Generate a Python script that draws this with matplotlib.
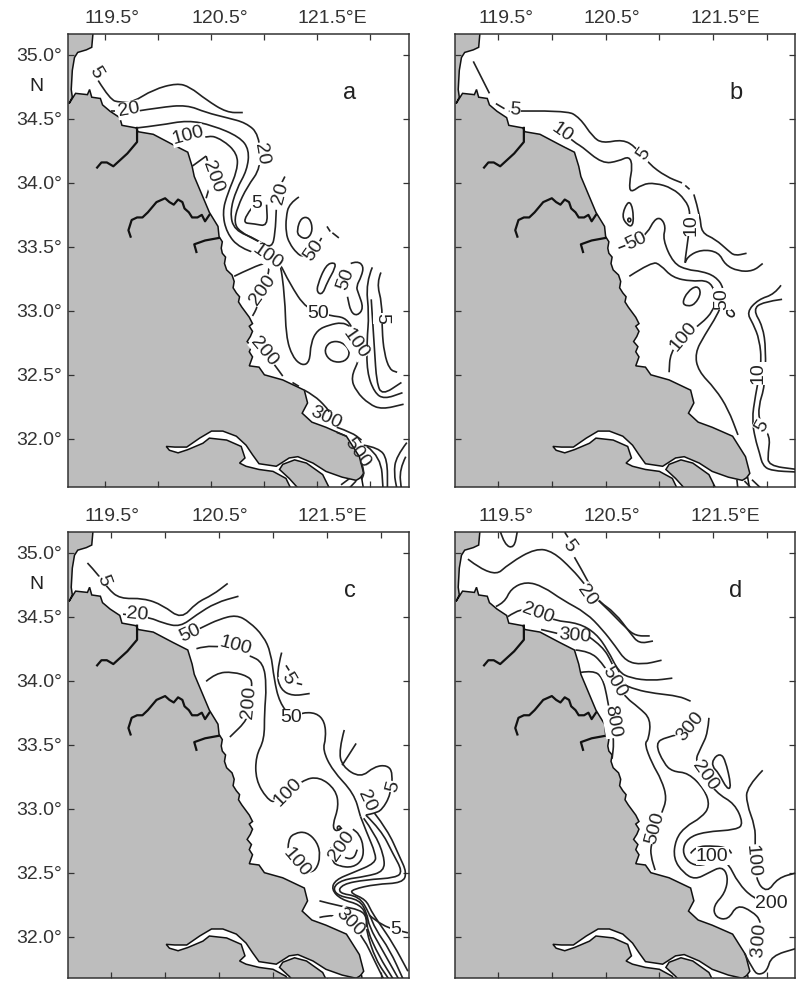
import matplotlib
matplotlib.use('Agg')
import matplotlib.pyplot as plt
from matplotlib.path import Path
from matplotlib.patches import PathPatch, Polygon

plt.rcParams['font.family'] = ['Liberation Sans', 'DejaVu Sans']

# axis ticks
xticks = [119.5, 120.0, 120.5, 121.0, 121.5, 122.0]
xticks_a = [119.445, 119.934, 120.424, 120.914, 121.404, 121.897]  # panel a ticks sit a bit left in the original
yticks = [32.0, 32.5, 33.0, 33.5, 34.0, 34.5, 35.0]
ytick_labels = ['32.0°', '32.5°', '33.0°', '33.5°', '34.0°', '34.5°', '35.0°']
xlabel_text = ['119.5°', '120.5°', '121.5°E']
xlabel_left = [119.51, 120.51, 121.55]
xlabel_right = [119.57, 120.56, 121.61]

# land outline, lon/lat
land = [(119.03, 35.25), (119.34, 35.25), (119.32, 35.06), (119.27, 35.04), (119.19, 35.02), (119.16, 34.98),
        (119.14, 34.88), (119.13, 34.73), (119.14, 34.67), (119.11, 34.62), (119.17, 34.70), (119.28, 34.69),
        (119.30, 34.73), (119.32, 34.67), (119.40, 34.66), (119.42, 34.61), (119.49, 34.56), (119.58, 34.51),
        (119.60, 34.45), (119.73, 34.43), (119.75, 34.40), (119.89, 34.38), (120.07, 34.30), (120.21, 34.24),
        (120.25, 34.13), (120.27, 34.05), (120.41, 33.77), (120.49, 33.66), (120.50, 33.58), (120.53, 33.54),
        (120.52, 33.49), (120.53, 33.45), (120.56, 33.42), (120.55, 33.37), (120.57, 33.32), (120.62, 33.28),
        (120.64, 33.23), (120.63, 33.18), (120.66, 33.14), (120.69, 33.11), (120.68, 33.07), (120.71, 33.03),
        (120.78, 32.95), (120.81, 32.90), (120.78, 32.88), (120.81, 32.84), (120.79, 32.80), (120.76, 32.76),
        (120.80, 32.72), (120.78, 32.68), (120.81, 32.64), (120.78, 32.57), (120.87, 32.56), (120.92, 32.50),
        (121.09, 32.46), (121.29, 32.38), (121.32, 32.28), (121.27, 32.20), (121.36, 32.13), (121.49, 32.09),
        (121.68, 32.02), (121.80, 31.86), (121.84, 31.73), (121.78, 31.66), (121.61, 31.55), (119.03, 31.55)]

# Yangtze channels, white on the land
estuary = [(120.01, 31.94), (120.09, 31.935), (120.20, 31.935), (120.32, 32.005), (120.43, 32.06), (120.535, 32.06),
           (120.66, 32.02), (120.75, 31.95), (120.81, 31.875), (120.87, 31.805), (121.03, 31.785), (121.15, 31.85),
           (121.23, 31.86), (121.37, 31.81), (121.49, 31.745), (121.64, 31.70), (121.77, 31.675), (121.82, 31.70),
           (121.85, 31.55), (121.56, 31.55), (121.46, 31.72), (121.31, 31.81), (121.20, 31.835), (121.09, 31.80),
           (121.06, 31.76), (121.15, 31.69), (121.30, 31.55), (121.20, 31.55), (121.12, 31.69), (121.00, 31.745),
           (120.87, 31.76), (120.75, 31.785), (120.69, 31.81), (120.74, 31.85), (120.705, 31.94), (120.57, 31.99),
           (120.41, 32.005), (120.35, 31.965), (120.21, 31.915), (120.12, 31.89), (120.04, 31.91)]

river_1 = [(119.74, 34.43), (119.74, 34.32), (119.65, 34.23), (119.52, 34.13), (119.46, 34.16), (119.41, 34.16),
           (119.37, 34.12)]
river_2 = [(120.41, 33.75), (120.37, 33.70), (120.34, 33.75), (120.30, 33.73), (120.25, 33.73), (120.22, 33.77),
           (120.18, 33.80), (120.16, 33.85), (120.12, 33.87), (120.08, 33.83), (120.04, 33.85), (120.00, 33.88),
           (119.92, 33.85), (119.87, 33.80), (119.84, 33.77), (119.79, 33.73), (119.74, 33.73), (119.69, 33.71),
           (119.66, 33.63), (119.68, 33.58)]
river_3 = [(120.50, 33.57), (120.37, 33.55), (120.27, 33.52), (120.29, 33.46)]
mouth_1 = [(121.63, 31.64), (121.71, 31.69)]
mouth_2 = [(121.69, 31.60), (121.77, 31.67)]
mouth_3 = [(121.72, 31.68), (121.73, 31.60)]
mouth_4 = [(121.79, 31.67), (121.87, 31.60)]
mouth_5 = [(121.86, 31.68), (121.96, 31.60)]

# panel a
a_5 = [(119.38, 34.80), (119.49, 34.65), (119.58, 34.63), (119.70, 34.63), (119.89, 34.73), (120.11, 34.78),
       (120.23, 34.75), (120.38, 34.65), (120.57, 34.55), (120.72, 34.55)]
a_20 = [(119.73, 34.56), (119.95, 34.59), (120.20, 34.61), (120.38, 34.55), (120.57, 34.51), (120.75, 34.47),
        (120.87, 34.38), (120.89, 34.12), (120.76, 33.97), (120.67, 33.81), (120.64, 33.69), (120.69, 33.62),
        (120.87, 33.54), (120.99, 33.49), (121.02, 33.61), (121.03, 33.79)]
a_50 = [(119.74, 34.43), (119.95, 34.45), (120.21, 34.49), (120.44, 34.45), (120.69, 34.36), (120.78, 34.26),
        (120.76, 34.10), (120.66, 33.95), (120.60, 33.77), (120.64, 33.63), (120.85, 33.56), (120.97, 33.48),
        (121.06, 33.42), (121.11, 33.11), (121.12, 32.80), (121.18, 32.64), (121.27, 32.57), (121.34, 32.60),
        (121.35, 32.75), (121.41, 32.85), (121.52, 32.89), (121.64, 32.91), (121.71, 32.88)]
a_100 = [(120.09, 34.28), (120.38, 34.38), (120.53, 34.34), (120.67, 34.23), (120.67, 34.10), (120.58, 33.92),
         (120.53, 33.77), (120.57, 33.61), (120.69, 33.49), (120.99, 33.41), (121.06, 33.38), (121.15, 33.22),
         (121.31, 33.01), (121.54, 32.96), (121.66, 32.95), (121.73, 32.88), (121.80, 32.74), (121.80, 32.62),
         (121.72, 32.48), (121.77, 32.37), (121.89, 32.27), (122.01, 32.23), (122.21, 32.27)]
a_hook_5 = [(120.80, 33.80), (120.70, 33.69), (120.83, 33.68), (120.95, 33.66), (120.94, 33.83)]
a_arc_50 = [(121.24, 33.89), (121.15, 33.84), (121.12, 33.73), (121.12, 33.61), (121.15, 33.53), (121.22, 33.45),
            (121.28, 33.42), (121.39, 33.48), (121.45, 33.57)]
a_hook_50 = [(121.72, 33.37), (121.78, 33.39), (121.84, 33.35), (121.82, 33.27), (121.77, 33.19), (121.79, 33.14),
             (121.84, 33.02), (121.78, 32.96), (121.72, 32.99), (121.69, 33.11)]
a_right_5 = [(122.00, 33.30), (121.96, 33.22), (122.01, 33.06), (122.01, 32.85), (122.03, 32.67), (122.08, 32.54),
             (122.15, 32.52)]
a_right_b = [(121.91, 33.09), (121.94, 32.70), (121.96, 32.44), (122.01, 32.34), (122.19, 32.44)]
a_right_c = [(121.92, 33.34), (121.86, 33.22), (121.89, 32.97), (121.87, 32.77), (121.87, 32.52), (121.94, 32.36),
             (122.03, 32.31), (122.20, 32.36)]
a_200_a = [(120.64, 33.27), (120.81, 33.34), (120.95, 33.38), (120.97, 33.31), (120.85, 33.02), (120.81, 32.96)]
a_200_b = [(120.25, 34.13), (120.38, 34.21)]
a_200_c = [(120.38, 34.21), (120.44, 34.05), (120.38, 33.88)]
a_200_d = [(120.86, 32.73), (120.92, 32.68), (121.03, 32.56), (121.09, 32.49)]
a_dash_1 = [(121.18, 32.44), (121.24, 32.41)]
a_300 = [(121.29, 32.38), (121.38, 32.34), (121.49, 32.25), (121.52, 32.21)]
a_300_c = [(121.59, 32.09), (121.73, 32.05), (121.82, 31.99)]
a_300_b = [(121.59, 32.05), (121.68, 32.02)]
a_500 = [(121.82, 31.81), (121.85, 31.74), (121.82, 31.68)]
a_low_1 = [(121.84, 31.95), (121.98, 31.93), (122.06, 31.84), (122.06, 31.60)]
a_low_2 = [(121.87, 31.94), (122.00, 31.86), (122.02, 31.60)]
a_low_3 = [(122.24, 31.97), (122.14, 31.86), (122.12, 31.73), (122.15, 31.60)]
a_low_4 = [(122.23, 31.86), (122.17, 31.76), (122.19, 31.60)]
a_stub_1 = [(121.11, 34.05), (121.08, 34.00)]
a_stub_2 = [(121.50, 33.66), (121.53, 33.62)]
a_stub_3 = [(121.55, 33.61), (121.61, 33.57)]
a_stub_4 = [(119.50, 34.56), (119.54, 34.56)]
a_oval_1 = [(121.22, 33.63), (121.26, 33.73), (121.34, 33.73), (121.37, 33.63), (121.32, 33.56), (121.24, 33.58)]
a_oval_2 = [(121.41, 33.20), (121.49, 33.36), (121.57, 33.38), (121.58, 33.34), (121.50, 33.22), (121.46, 33.13),
            (121.41, 33.14)]
a_oval_3 = [(121.47, 32.68), (121.52, 32.76), (121.64, 32.76), (121.72, 32.68), (121.67, 32.60), (121.54, 32.60)]
a_lines = [a_5, a_20, a_50, a_100, a_hook_5, a_arc_50, a_hook_50, a_right_5, a_right_b, a_right_c, a_200_a, a_200_b,
           a_200_c, a_200_d, a_dash_1, a_300, a_300_c, a_300_b, a_500, a_low_1, a_low_2, a_low_3, a_low_4, a_stub_1,
           a_stub_2, a_stub_3, a_stub_4, mouth_1, mouth_2]
a_rings = [a_oval_1, a_oval_2, a_oval_3]
a_labels = [('5', 119.36, 34.86, -60), ('20', 119.66, 34.57, 10), ('20', 120.89, 34.23, -80), ('100', 120.21, 34.37, 15),
            ('200', 120.44, 34.05, -70), ('5', 120.85, 33.84, 0), ('20', 121.07, 33.92, 75), ('100', 120.95, 33.42, -35),
            ('50', 121.38, 33.47, 55), ('50', 121.67, 33.25, 70), ('200', 120.90, 33.16, 55), ('50', 121.42, 32.98, 0),
            ('100', 121.76, 32.74, -55), ('5', 122.01, 32.94, -90), ('200', 120.92, 32.68, -50)]
a_plain = [('300', 121.49, 32.16, -25), ('500', 121.78, 31.89, -55)]

# panel b
b_5_a = [(119.27, 34.95), (119.42, 34.70)]
b_5_b = [(119.48, 34.62), (119.56, 34.58)]
b_5_c = [(119.60, 34.56), (120.13, 34.57), (120.26, 34.51), (120.38, 34.36), (120.47, 34.31), (120.66, 34.34),
         (120.78, 34.28), (120.90, 34.15), (121.06, 34.05), (121.21, 34.00)]
b_5_d = [(121.24, 33.98), (121.28, 33.95)]
b_5_e = [(121.32, 33.91), (121.38, 33.74), (121.39, 33.61), (121.52, 33.56), (121.64, 33.47), (121.70, 33.43),
         (121.81, 33.45)]
b_10 = [(120.18, 34.34), (120.24, 34.30), (120.27, 34.29), (120.47, 34.15), (120.62, 34.17), (120.72, 34.21),
        (120.75, 34.13), (120.72, 34.00), (120.73, 33.92), (120.84, 33.99), (120.96, 34.00), (121.12, 33.96),
        (121.24, 33.87), (121.29, 33.77), (121.27, 33.58), (121.23, 33.35), (121.26, 33.425), (121.39, 33.48),
        (121.55, 33.46), (121.61, 33.36), (121.73, 33.31), (121.87, 33.31), (121.96, 33.37)]
b_50 = [(120.62, 33.49), (120.78, 33.54), (120.89, 33.61), (120.95, 33.71), (121.01, 33.73), (121.06, 33.66),
        (121.03, 33.56), (121.13, 33.37), (121.26, 33.32), (121.39, 33.31), (121.52, 33.27), (121.60, 33.18),
        (121.58, 33.06), (121.54, 32.97), (121.42, 32.81), (121.33, 32.67), (121.36, 32.53), (121.52, 32.39),
        (121.64, 32.23), (121.73, 32.03)]
b_100 = [(120.72, 33.27), (120.93, 33.385), (121.01, 33.36), (121.12, 33.26), (121.30, 33.23), (121.43, 33.24),
         (121.50, 33.19), (121.53, 33.10), (121.50, 33.00), (121.39, 32.90), (121.22, 32.80), (121.10, 32.67),
         (121.09, 32.52)]
b_right_10 = [(122.13, 33.20), (122.07, 33.13), (121.92, 33.09), (121.81, 32.99), (121.87, 32.90), (121.93, 32.775),
              (121.95, 32.59), (121.89, 32.33), (121.86, 32.15), (121.89, 32.00), (121.93, 31.89), (121.96, 31.79),
              (122.04, 31.75), (122.28, 31.74)]
b_right_5 = [(122.14, 33.09), (121.96, 33.07), (121.87, 33.01), (121.96, 32.88), (121.99, 32.70), (121.98, 32.41),
             (121.92, 32.255), (121.93, 32.125), (122.03, 32.02), (122.01, 31.89), (122.01, 31.79), (122.28, 31.76)]
b_oval_1 = [(120.65, 33.74), (120.70, 33.85), (120.74, 33.84), (120.76, 33.74), (120.75, 33.66), (120.70, 33.67)]
b_oval_2 = [(121.21, 33.06), (121.26, 33.15), (121.35, 33.20), (121.39, 33.14), (121.33, 33.05), (121.26, 33.035)]
b_oval_3 = [(121.62, 32.99), (121.64, 33.02), (121.70, 32.99), (121.69, 32.95), (121.64, 32.96)]
b_oval_4 = [(120.70, 33.71), (120.72, 33.73), (120.74, 33.71), (120.72, 33.69)]
b_lines = [b_5_a, b_5_b, b_5_c, b_5_d, b_5_e, b_10, b_50, b_100, b_right_10, b_right_5, mouth_3, mouth_4, mouth_5]
b_rings = [b_oval_1, b_oval_2, b_oval_3, b_oval_4]
b_labels = [('5', 119.66, 34.57, -5), ('10', 120.09, 34.39, -35), ('5', 120.85, 34.23, 55), ('10', 121.29, 33.67, 90),
            ('50', 120.78, 33.54, 25), ('50', 121.58, 33.09, 90), ('100', 121.22, 32.80, 50), ('10', 121.92, 32.51, 90),
            ('5', 121.95, 32.10, 60)]

# panel c
c_5 = [(119.28, 34.92), (119.38, 34.83), (119.47, 34.72), (119.58, 34.64), (119.80, 34.645), (119.98, 34.59),
       (120.15, 34.48), (120.29, 34.61), (120.44, 34.67), (120.58, 34.76)]
c_20 = [(119.61, 34.52), (119.84, 34.50), (119.98, 34.45), (120.14, 34.42), (120.29, 34.515), (120.47, 34.61),
        (120.68, 34.66)]
c_50 = [(120.23, 34.37), (120.35, 34.42), (120.50, 34.48), (120.66, 34.515), (120.78, 34.46), (120.91, 34.35),
        (120.98, 34.22), (121.01, 34.01), (121.06, 33.83), (121.17, 33.71), (121.26, 33.75), (121.40, 33.75),
        (121.48, 33.68), (121.49, 33.55), (121.46, 33.46), (121.55, 33.30), (121.75, 33.12), (121.81, 32.94)]
c_100 = [(120.29, 34.25), (120.44, 34.29), (120.78, 34.20), (120.91, 34.14), (120.94, 33.96), (120.92, 33.75),
         (120.92, 33.54), (120.84, 33.41), (120.84, 33.225), (120.94, 33.08), (121.03, 33.04), (121.27, 33.225),
         (121.43, 33.25), (121.58, 33.15), (121.61, 33.02), (121.55, 32.87), (121.58, 32.82), (121.64, 32.85)]
c_200 = [(120.38, 33.995), (120.47, 34.06), (120.63, 34.07), (120.78, 34.03), (120.81, 33.98), (120.78, 33.83),
         (120.77, 33.70), (120.60, 33.56)]
c_hook_5 = [(121.08, 34.22), (121.03, 34.06), (121.07, 33.93), (121.18, 33.88), (121.34, 33.90)]
c_dash_1 = [(121.12, 34.12), (121.15, 34.08)]
c_dash_2 = [(121.22, 33.98), (121.27, 33.97)]
c_loop_100 = [(121.14, 32.69), (121.14, 32.76), (121.20, 32.81), (121.31, 32.82), (121.41, 32.74), (121.44, 32.63),
              (121.40, 32.52), (121.32, 32.50)]
c_stub = [(121.10, 32.63), (121.15, 32.68)]
c_ring_1 = [(121.54, 32.70), (121.54, 32.59), (121.61, 32.55), (121.74, 32.54), (121.83, 32.60), (121.84, 32.705),
            (121.80, 32.80), (121.74, 32.84)]
c_ring_2 = [(121.61, 32.65), (121.67, 32.61), (121.75, 32.61), (121.78, 32.68)]
c_ring_3 = [(121.59, 32.85), (121.61, 32.87), (121.63, 32.85), (121.61, 32.83)]
c_band_1 = [(121.94, 32.965), (122.06, 32.835), (122.17, 32.63), (122.24, 32.50), (122.20, 32.42), (121.95, 32.41),
            (121.74, 32.37), (121.72, 32.34), (121.86, 32.29), (121.91, 32.20), (121.98, 32.11), (122.11, 31.95),
            (122.25, 31.73)]
c_band_2 = [(121.86, 32.95), (122.00, 32.835), (122.11, 32.65), (122.20, 32.51), (122.14, 32.46), (121.86, 32.445),
            (121.64, 32.41), (121.60, 32.34), (121.80, 32.315), (121.89, 32.185), (121.95, 32.055), (122.08, 31.90),
            (122.21, 31.66)]
c_band_3 = [(121.84, 32.925), (121.94, 32.81), (122.03, 32.63), (122.03, 32.51), (121.86, 32.47), (121.64, 32.445),
            (121.55, 32.38), (121.61, 32.315), (121.80, 32.29), (121.87, 32.185), (121.89, 32.08), (122.01, 31.90),
            (122.17, 31.66)]
c_band_4 = [(121.81, 32.94), (121.87, 32.81), (121.95, 32.65), (121.95, 32.575), (121.74, 32.50), (121.58, 32.445),
            (121.54, 32.37), (121.63, 32.29), (121.81, 32.25), (121.87, 32.16), (121.87, 32.055), (121.98, 31.85),
            (122.12, 31.66)]
c_300_a = [(121.43, 32.28), (121.61, 32.24), (121.81, 32.21), (121.87, 32.15), (121.86, 32.055), (121.95, 31.82),
           (122.08, 31.66)]
c_300_b = [(121.43, 32.15), (121.58, 32.18), (121.71, 32.11), (121.84, 31.99), (121.95, 31.795), (122.03, 31.66)]
c_top_5 = [(121.66, 33.615), (121.61, 33.46), (121.64, 33.33), (121.81, 33.24), (121.94, 33.33), (122.06, 33.34),
           (122.11, 33.28), (122.09, 33.11), (122.01, 32.99), (121.94, 32.965), (121.86, 32.95)]
c_top_b = [(121.77, 33.51), (121.68, 33.39), (121.64, 33.34)]
c_tail = [(121.89, 32.17), (122.01, 32.08), (122.25, 32.03)]
c_lines = [c_5, c_20, c_50, c_100, c_200, c_hook_5, c_dash_1, c_dash_2, c_loop_100, c_stub, c_ring_1, c_ring_2,
           c_band_1, c_band_2, c_band_3, c_band_4, c_300_a, c_300_b, c_top_5, c_top_b, c_tail]
c_rings = [c_ring_3]
c_labels = [('5', 119.43, 34.78, -70), ('20', 119.74, 34.515, -5), ('50', 120.23, 34.37, 25), ('100', 120.65, 34.27, -15),
            ('5', 121.14, 34.02, -60), ('200', 120.78, 33.83, 85), ('50', 121.17, 33.71, 0), ('100', 121.14, 33.13, 45),
            ('100', 121.22, 32.58, -50), ('200', 121.64, 32.705, 55), ('5', 122.11, 33.17, 75), ('20', 121.87, 33.06, -65),
            ('300', 121.71, 32.11, -45), ('5', 122.14, 32.055, 0)]
c_plain = []

# panel d
d_top_u = [(119.52, 35.17), (119.56, 35.06), (119.65, 35.035), (119.68, 35.17)]
d_5 = [(119.22, 34.95), (119.45, 34.80), (119.61, 34.92), (119.85, 35.035), (120.01, 35.01), (120.19, 34.87),
       (120.30, 34.76), (120.39, 34.66), (120.53, 34.55), (120.69, 34.41), (120.78, 34.35), (120.91, 34.35)]
d_5_b = [(120.21, 34.965), (120.35, 34.76), (120.42, 34.63), (120.59, 34.53), (120.73, 34.37), (120.81, 34.29),
         (120.94, 34.31)]
d_stub = [(120.12, 35.16), (120.15, 35.12)]
d_100 = [(119.48, 34.58), (119.56, 34.61), (119.62, 34.72), (119.76, 34.775), (119.92, 34.736), (120.10, 34.63),
         (120.32, 34.53), (120.47, 34.40), (120.59, 34.27), (120.69, 34.15), (120.84, 34.125), (121.02, 34.16)]
d_200 = [(119.59, 34.50), (119.72, 34.575), (119.87, 34.53), (120.02, 34.47), (120.25, 34.45), (120.41, 34.37),
         (120.52, 34.24), (120.62, 34.07), (120.73, 34.02), (120.93, 34.00), (121.12, 34.02)]
d_300_a = [(119.90, 34.40), (120.05, 34.37)]
d_300 = [(120.35, 34.34), (120.47, 34.27), (120.56, 34.14), (120.64, 33.98), (120.78, 33.93), (120.96, 33.90),
         (121.18, 33.88), (121.29, 33.84)]
d_500 = [(120.22, 34.24), (120.35, 34.23), (120.47, 34.14), (120.67, 33.88), (120.81, 33.79), (120.92, 33.70),
         (120.90, 33.54), (120.86, 33.51), (120.93, 33.355), (121.02, 33.225), (121.07, 33.08), (121.02, 32.965),
         (120.92, 32.72), (120.92, 32.63), (120.96, 32.52)]
d_800 = [(120.27, 34.065), (120.38, 34.08), (120.47, 34.03), (120.52, 33.85), (120.58, 33.54), (120.56, 33.39)]
d_300_b = [(121.18, 33.58), (121.06, 33.56), (120.96, 33.51), (121.04, 33.355), (121.12, 33.29), (121.27, 33.28),
           (121.42, 33.15), (121.47, 33.02), (121.39, 32.93), (121.24, 32.86), (121.15, 32.76), (121.13, 32.61),
           (121.22, 32.50), (121.33, 32.445), (121.46, 32.50), (121.58, 32.55), (121.64, 32.47), (121.61, 32.34),
           (121.50, 32.24), (121.52, 32.15), (121.64, 32.13), (121.72, 32.25), (121.86, 32.20), (121.95, 32.12),
           (121.93, 31.95)]
d_200_b = [(121.46, 33.71), (121.45, 33.59), (121.39, 33.485), (121.32, 33.355), (121.53, 33.12), (121.70, 33.04),
           (121.78, 32.885), (121.72, 32.835), (121.42, 32.82), (121.26, 32.77), (121.21, 32.67), (121.27, 32.575),
           (121.39, 32.55), (121.55, 32.61), (121.64, 32.575), (121.73, 32.42), (121.87, 32.30), (122.04, 32.26)]
d_100_b = [(121.29, 32.65), (121.33, 32.705), (121.52, 32.71), (121.64, 32.69), (121.67, 32.65)]
d_100_c = [(121.96, 33.30), (121.81, 33.17), (121.81, 33.04), (121.89, 32.86), (121.89, 32.73), (121.89, 32.445),
           (122.00, 32.34), (122.10, 32.46), (122.28, 32.50)]
d_low = [(121.79, 31.87), (121.87, 31.74), (121.92, 31.70), (122.00, 31.73), (122.04, 31.85), (122.28, 31.91)]
d_blob = [(121.50, 33.39), (121.56, 33.43), (121.61, 33.39), (121.67, 33.17), (121.63, 33.15), (121.55, 33.28),
          (121.49, 33.33)]
d_lines = [d_top_u, d_5, d_5_b, d_stub, d_100, d_200, d_300_a, d_300, d_500, d_800, d_300_b, d_200_b, d_100_b, d_100_c,
           d_low]
d_rings = [d_blob]
d_labels = [('5', 120.16, 35.05, -55), ('20', 120.33, 34.67, -55), ('200', 119.87, 34.53, -20),
            ('500', 120.58, 33.99, -60), ('800', 120.56, 33.68, -80), ('300', 121.29, 33.64, 50), ('200', 121.42, 33.26, -55),
            ('500', 120.96, 32.85, 75), ('100', 121.49, 32.63, 0), ('100', 121.86, 32.59, -85), ('200', 122.04, 32.26, 0),
            ('300', 121.93, 31.98, 85), ('3', 121.92, 31.88, 85)]
d_plain = [('300', 120.21, 34.35, -5)]


def smooth_path(points, closed=False):
    # quadratic curves through the midpoints, so the contours do not look like polygons
    verts, codes = [], []
    n = len(points)
    if closed:
        mid = ((points[-1][0] + points[0][0]) / 2, (points[-1][1] + points[0][1]) / 2)
        verts.append(mid)
        codes.append(Path.MOVETO)
        for i in range(n):
            nxt = points[(i + 1) % n]
            verts += [points[i], ((points[i][0] + nxt[0]) / 2, (points[i][1] + nxt[1]) / 2)]
            codes += [Path.CURVE3, Path.CURVE3]
        return Path(verts, codes)
    verts.append(points[0])
    codes.append(Path.MOVETO)
    for i in range(1, n - 1):
        nxt = points[i + 1]
        verts += [points[i], ((points[i][0] + nxt[0]) / 2, (points[i][1] + nxt[1]) / 2)]
        codes += [Path.CURVE3, Path.CURVE3]
    verts.append(points[-1])
    codes.append(Path.LINETO)
    return Path(verts, codes)


def draw_panel(rect, ylim, letter, lines, rings, labels, plain, x_ticks, label_x, left_labels):
    left, top, w, h = rect
    ax = fig.add_axes([left / 797, 1 - (top + h) / 982, w / 797, h / 982])
    ax.set_xlim(119.10, 122.26)
    ax.set_ylim(*ylim)

    ax.add_patch(Polygon(land, closed=True, fc='#bdbdbd', ec='#111111', lw=1.1, zorder=1))
    ax.add_patch(Polygon(estuary, closed=True, fc='white', ec='#111111', lw=1.1, zorder=2))
    for river in [river_1, river_2, river_3]:
        ax.plot(*zip(*river), color='#111111', lw=1.6, zorder=2)

    for line in lines:
        ax.add_patch(PathPatch(smooth_path(line), fc='none', ec='#222222', lw=1.2, zorder=3))
    for ring in rings:
        ax.add_patch(PathPatch(smooth_path(ring, closed=True), fc='none', ec='#222222', lw=1.2, zorder=3))
    for text, lon, lat, rot in labels:
        ax.text(lon, lat, text, rotation=rot, rotation_mode='anchor', ha='center', va='center', fontsize=14,
                color='#222222', zorder=4, bbox=dict(fc='white', ec='none', pad=0.2))
    # these sit on the coast, a white box would cut into the land
    for text, lon, lat, rot in plain:
        ax.text(lon, lat, text, rotation=rot, rotation_mode='anchor', ha='center', va='center', fontsize=14,
                color='#222222', zorder=4)

    ax.text(121.71, 34.70, letter, fontsize=17, color='#222222', ha='center', va='center', zorder=4)

    ax.set_xticks(x_ticks)
    ax.set_yticks(yticks)
    ax.tick_params(direction='in', length=4.3, width=0.9, top=True, right=True, bottom=True, left=True,
                   labelbottom=False, labelleft=left_labels, labelsize=14, pad=4, colors='#333333')
    if left_labels:
        ax.set_yticklabels(ytick_labels)
        ax.text(118.81, 34.75, 'N', fontsize=14, color='#222222', ha='center', va='center', clip_on=False)
    for text, lon in zip(xlabel_text, label_x):
        ax.text(lon, 1.015, text, transform=ax.get_xaxis_transform(), ha='center', va='bottom', fontsize=14,
                color='#333333')
    for spine in ax.spines.values():
        spine.set_linewidth(1.1)
        spine.set_color('#333333')
    return ax


fig = plt.figure(figsize=(7.97, 9.82), dpi=100)
draw_panel((68, 34, 341, 453), (31.623, 35.164), 'a', a_lines, a_rings, a_labels, a_plain, xticks_a, xlabel_left, True)
draw_panel((455, 34, 340, 453), (31.623, 35.164), 'b', b_lines, b_rings, b_labels, [], xticks, xlabel_right, False)
draw_panel((68, 532, 341, 446), (31.677, 35.162), 'c', c_lines, c_rings, c_labels, c_plain, xticks, xlabel_left, True)
draw_panel((455, 532, 340, 446), (31.677, 35.162), 'd', d_lines, d_rings, d_labels, d_plain, xticks, xlabel_right, False)

fig.savefig('out.png', dpi=100)
